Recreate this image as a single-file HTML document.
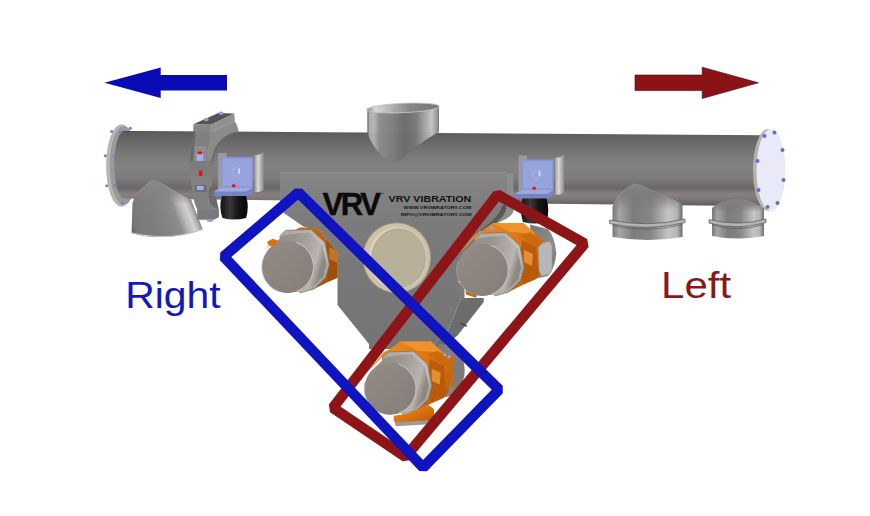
<!DOCTYPE html>
<html lang="en"><head><meta charset="utf-8"><title>VRV Vibration - Right / Left</title>
<style>html,body{margin:0;padding:0;background:#fff}body{width:870px;height:516px;overflow:hidden;font-family:"Liberation Sans",sans-serif}svg{display:block}</style>
</head><body>
<svg width="870" height="516" viewBox="0 0 870 516">
<defs>
<linearGradient id="gPipe" x1="0" y1="0" x2="0" y2="1">
 <stop offset="0" stop-color="#3c3c3c"/>
 <stop offset=".02" stop-color="#5c5c5c"/>
 <stop offset=".15" stop-color="#696969"/>
 <stop offset=".3" stop-color="#777777"/>
 <stop offset=".45" stop-color="#828282"/>
 <stop offset=".62" stop-color="#7e7c7c"/>
 <stop offset=".70" stop-color="#737070"/>
 <stop offset=".76" stop-color="#6b6767"/>
 <stop offset=".84" stop-color="#898181"/>
 <stop offset=".91" stop-color="#7a7575"/>
 <stop offset="1" stop-color="#5c5a5a"/>
</linearGradient>
<linearGradient id="gInlet" x1="0" y1="0" x2="1" y2="0">
 <stop offset="0" stop-color="#5a5a5a"/>
 <stop offset=".03" stop-color="#b0b0b0"/>
 <stop offset=".09" stop-color="#b6b6b6"/>
 <stop offset=".17" stop-color="#8e8e8e"/>
 <stop offset=".35" stop-color="#808080"/>
 <stop offset=".52" stop-color="#6e6e6e"/>
 <stop offset=".68" stop-color="#7b7b7b"/>
 <stop offset=".8" stop-color="#a5a5a5"/>
 <stop offset=".9" stop-color="#c4c4c4"/>
 <stop offset=".97" stop-color="#9a9a9a"/>
 <stop offset="1" stop-color="#777"/>
</linearGradient>
<linearGradient id="gInletIn" x1="0" y1="0" x2="1" y2="0">
 <stop offset="0" stop-color="#8a8a8a"/>
 <stop offset=".12" stop-color="#d8d8d8"/>
 <stop offset=".35" stop-color="#b0b0b0"/>
 <stop offset=".6" stop-color="#858585"/>
 <stop offset="1" stop-color="#777"/>
</linearGradient>
<linearGradient id="gOutL" gradientUnits="userSpaceOnUse" x1="131.6" y1="228" x2="192.9" y2="204.1">
 <stop offset="0" stop-color="#686868"/>
 <stop offset=".06" stop-color="#787878"/>
 <stop offset=".5" stop-color="#828282"/>
 <stop offset=".7" stop-color="#8e8e8e"/>
 <stop offset=".8" stop-color="#bababa"/>
 <stop offset=".89" stop-color="#d2d2d2"/>
 <stop offset=".96" stop-color="#adadad"/>
 <stop offset="1" stop-color="#848484"/>
</linearGradient>
<linearGradient id="gOutR" x1="0" y1="0" x2="1" y2="0">
 <stop offset="0" stop-color="#777"/>
 <stop offset=".1" stop-color="#a5a5a5"/>
 <stop offset=".3" stop-color="#7c7c7c"/>
 <stop offset=".55" stop-color="#868686"/>
 <stop offset=".8" stop-color="#c4c4c4"/>
 <stop offset=".92" stop-color="#b5b5b5"/>
 <stop offset="1" stop-color="#6c6c6c"/>
</linearGradient>
<linearGradient id="gSaddle" x1="0" y1="0" x2="1" y2="0">
 <stop offset="0" stop-color="#777"/>
 <stop offset=".25" stop-color="#8b8989"/>
 <stop offset=".6" stop-color="#7d7b7b"/>
 <stop offset="1" stop-color="#757171"/>
</linearGradient>
<linearGradient id="gSaddleFade" x1="0" y1="0" x2="0" y2="1">
 <stop offset="0" stop-color="#848282" stop-opacity="1"/>
 <stop offset=".45" stop-color="#7e7b7b" stop-opacity=".85"/>
 <stop offset="1" stop-color="#7a7777" stop-opacity="0"/>
</linearGradient>
<linearGradient id="gSaddleFadeL" x1="0" y1="0" x2="0" y2="1">
 <stop offset="0" stop-color="#8a8888" stop-opacity="1"/>
 <stop offset=".5" stop-color="#858282" stop-opacity=".8"/>
 <stop offset="1" stop-color="#807d7d" stop-opacity="0"/>
</linearGradient>
<linearGradient id="gCap" x1="0" y1="0" x2="1" y2="1">
 <stop offset="0" stop-color="#948d88"/>
 <stop offset=".5" stop-color="#8b847f"/>
 <stop offset="1" stop-color="#847d78"/>
</linearGradient>
<linearGradient id="gCylSide" x1="0" y1="0" x2="1" y2="0.3">
 <stop offset="0" stop-color="#908a85"/>
 <stop offset=".45" stop-color="#9a948f"/>
 <stop offset=".7" stop-color="#aaa5a0"/>
 <stop offset=".88" stop-color="#bab5b0"/>
 <stop offset="1" stop-color="#8e8883"/>
</linearGradient>
<linearGradient id="gFlange" x1="0" y1="0" x2="1" y2="1">
 <stop offset="0" stop-color="#aaa6a2"/>
 <stop offset=".6" stop-color="#c4c0bc"/>
 <stop offset="1" stop-color="#8d8985"/>
</linearGradient>
<linearGradient id="gCylFar" x1="0" y1="0" x2="1" y2="1">
 <stop offset="0" stop-color="#777"/>
 <stop offset=".6" stop-color="#8c8c8c"/>
 <stop offset="1" stop-color="#6e6e6e"/>
</linearGradient>
<linearGradient id="gOrange" x1="0" y1="0" x2="1" y2="1">
 <stop offset="0" stop-color="#ee8a1e"/>
 <stop offset=".45" stop-color="#dd7410"/>
 <stop offset="1" stop-color="#b05608"/>
</linearGradient>
<radialGradient id="gDisc" cx=".45" cy=".45" r=".6">
 <stop offset="0" stop-color="#d2ccb6"/>
 <stop offset=".8" stop-color="#c9c2aa"/>
 <stop offset="1" stop-color="#b9b29a"/>
</radialGradient>
<linearGradient id="gRubber" x1="0" y1="0" x2="1" y2="0">
 <stop offset="0" stop-color="#111"/>
 <stop offset=".35" stop-color="#3a3a3a"/>
 <stop offset=".6" stop-color="#1a1a1a"/>
 <stop offset="1" stop-color="#050505"/>
</linearGradient>
<linearGradient id="gPlate" x1="0" y1="0" x2="0" y2="1">
 <stop offset="0" stop-color="#858585"/>
 <stop offset=".3" stop-color="#7b7b7b"/>
 <stop offset="1" stop-color="#747474"/>
</linearGradient>
<linearGradient id="gBrk" x1="0" y1="0" x2="1" y2="0">
 <stop offset="0" stop-color="#9a9a9a"/>
 <stop offset=".4" stop-color="#d8d8d8"/>
 <stop offset="1" stop-color="#8a8a8a"/>
</linearGradient>
</defs>
<rect width="870" height="516" fill="#fff"/>

<ellipse cx="121.5" cy="165.5" rx="15.3" ry="41.2" fill="#b0b0b0"/>
<ellipse cx="122.6" cy="165.5" rx="14.6" ry="40.4" fill="#c2bca8"/>
<ellipse cx="123.6" cy="165.5" rx="14" ry="39.6" fill="#9a9a9a"/>
<path d="M124 131 L770 135.2 L770 206.3 L124 198.5 A9.7 33.75 0 0 1 124 131 Z" fill="url(#gPipe)"/>
<circle cx="111.6" cy="131.4" r="1.5" fill="#6f7cd8"/>
<circle cx="120.5" cy="132.3" r="1.5" fill="#6f7cd8"/>
<circle cx="130.3" cy="128.2" r="1.5" fill="#6f7cd8"/>
<circle cx="105.3" cy="155.8" r="1.5" fill="#6f7cd8"/>
<circle cx="114.3" cy="156" r="1.5" fill="#6f7cd8"/>
<circle cx="106.8" cy="185.7" r="1.5" fill="#6f7cd8"/>
<circle cx="115.2" cy="185.7" r="1.5" fill="#6f7cd8"/>
<circle cx="122.3" cy="203.2" r="1.5" fill="#6f7cd8"/>
<ellipse cx="768" cy="170" rx="15" ry="41" fill="#b5b3ae"/>
<ellipse cx="771" cy="170" rx="14.5" ry="41" fill="#e9e9f7"/>
<circle cx="764.5" cy="136" r="2" fill="#5f6fd0"/>
<circle cx="774.5" cy="132.5" r="2" fill="#5f6fd0"/>
<circle cx="782.5" cy="150" r="2" fill="#5f6fd0"/>
<circle cx="783.5" cy="180" r="2" fill="#5f6fd0"/>
<circle cx="777.5" cy="203" r="2" fill="#5f6fd0"/>
<circle cx="767.5" cy="207" r="2" fill="#5f6fd0"/>
<circle cx="758.5" cy="190" r="2" fill="#5f6fd0"/>
<circle cx="757.5" cy="161" r="2" fill="#5f6fd0"/>
<path d="M367.4 109.5 L367.4 133 Q370 141 376.8 150.2 Q384 159.5 393.5 163.3 Q398 163 401.5 159.7 L413.1 148.8 L427.7 138.6 L439 132 L439 106 Z" fill="url(#gInlet)"/>
<path d="M367.4 133 Q370 141 376.8 150.2 Q384 159.5 393.5 163.3 Q398 163 401.5 159.7 L413.1 148.8 L427.7 138.6 L439 132 Z" fill="#555" opacity=".08"/>
<ellipse cx="403" cy="108" rx="36.3" ry="4.7" transform="rotate(-2.6 403 108)" fill="url(#gInletIn)" stroke="#c4c4c4" stroke-width=".9"/>
<path d="M131.6 233.2 L132.4 203.4 Q133.5 199 135.3 196.2 Q140 189 144.7 186 Q149 181 153.4 180.2 Q158 181.5 163.6 184.5 L178 193.3 L191.2 199.8 L202.8 229.6 Q168 242.5 131.6 233.2 Z" fill="url(#gOutL)"/>
<path d="M132.4 203.4 Q133.5 199 135.3 196.2 Q140 189 144.7 186 Q149 181 153.4 180.2 Q158 181.5 163.6 184.5 L178 193.3 L191.2 199.8 L193 204 Z" fill="url(#gSaddleFadeL)"/>
<path d="M135.3 196.2 Q140 189 144.7 186 Q149 181 153.4 180.2 Q158 181.5 163.6 184.5 L178 193.3" fill="none" stroke="#9a9a9a" stroke-width=".8" opacity=".7"/>
<path d="M131.6 232.8 Q168 242 202.8 229.2" fill="none" stroke="#c4c4c4" stroke-width="1.1"/>
<path d="M612.5 207 Q618 192 634 184 Q641 184.5 648 188.5 Q668 197 682.5 204 L682.5 237 Q648 243 612.5 237 Z" fill="url(#gOutR)"/>
<path d="M612.5 210 L612.5 207 Q618 192 634 184 Q641 184.5 648 188.5 Q668 197 682.5 204 L682.5 210 Z" fill="url(#gSaddleFade)"/>
<path d="M612.5 207 Q618 192 634 184 Q641 184.5 648 188.5" fill="none" stroke="#9c9c9c" stroke-width=".8" opacity=".7"/>
<path d="M609.5 220 Q648 228 685 219 L685 222.6 Q648 231.6 609.5 223.6 Z" fill="#b4b4b4" stroke="#5a5a5a" stroke-width=".7"/>
<path d="M612.5 225.5 Q648 233.5 682.5 224.5" fill="none" stroke="#555" stroke-width="1" opacity=".6"/>
<path d="M712 208 Q722 199.5 738 199 Q752 200 764 208.5 L764 236 Q738 241 712 236 Z" fill="url(#gOutR)"/>
<path d="M712 212 L712 208 Q722 199.5 738 199 Q752 200 764 208.5 L764 212 Z" fill="url(#gSaddleFade)"/>
<path d="M709 219.5 Q738 227 766 219 L766 222.6 Q738 230.6 709 223.1 Z" fill="#b4b4b4" stroke="#5a5a5a" stroke-width=".7"/>
<path d="M712 225 Q738 232.5 764 224.5" fill="none" stroke="#555" stroke-width="1" opacity=".6"/>
<path d="M212 131.6 L234.8 121 Q238 126 238.6 131.6 Q222 134 214 150 Q210.5 160 210 170 L206 170 L206 131.6 Z" fill="#8b8b8b"/>
<path d="M238.6 131.6 Q222 134 214 150 Q210.5 160 210 170 L212 170 Q213 158 217 150 Q225 136 238.6 133 Z" fill="#6a6a6a" opacity=".7"/>
<path d="M193.6 130.8 L210.9 131.3 L209.5 140 L207 150 L206.5 161 L212 161.5 L212 170.5 L189.7 170 L189.7 161 L191 150 Z" fill="#808080"/>
<path d="M189.7 161 L191 150 L193.6 130.8 L195.5 131 L194 150 L193 161 Z" fill="#696969"/>
<rect x="194.5" y="146" width="11.7" height="15" fill="#8d8d8d"/>
<path d="M189.7 161 L212 161.5 L212 170.5 L189.7 170 Z" fill="#7c7c7c"/>
<path d="M190.7 175.8 L212 176.3 L212 185 L209 190 L208.5 203 L214 208.5 L218.8 209.5 L218.8 217 L214 219.5 L197.4 219.5 L197.4 210 L194.5 203 L191.5 186 Z" fill="#808080"/>
<path d="M190.7 175.8 L212 176.3 L212 185 L190.7 184.5 Z" fill="#828282"/>
<rect x="195" y="185" width="11.5" height="7" fill="#6d6d6d"/>
<path d="M197.4 209.8 L218.8 209.5 L218.8 217 L214 219.5 L197.4 219.5 Z" fill="#7a7a7a"/>
<path d="M209 190 L214 188 L218.8 209.5 L214 208.5 L208.5 203 Z" fill="#6c6c6c"/>
<rect x="207" y="219.5" width="6" height="2.2" rx="1" fill="#8f9bdc"/>
<path d="M193.3 124.2 L218.3 113 L234.3 113.5 L210.9 124.7 Z" fill="#545454"/>
<path d="M193.3 124.2 L210.9 124.7 L210.9 131.6 L193.3 131.1 Z" fill="#868686"/>
<path d="M210.9 124.7 L234.3 113.5 L234.8 121 L212 131.6 L210.9 131.6 Z" fill="#909090"/>
<rect x="196.6" y="153.5" width="6.6" height="7.4" rx="1.2" fill="#a3b0ea"/>
<rect x="197.6" y="151.6" width="4.6" height="2.6" rx=".8" fill="#e01818"/>
<rect x="199" y="170.5" width="3.4" height="5.5" fill="#e01818"/>
<rect x="196.8" y="186" width="7" height="4" rx="1.2" fill="#a3b0ea"/>
<ellipse cx="206.1" cy="119.6" rx="2.6" ry="1.7" fill="#8f9de2"/><ellipse cx="221" cy="113.3" rx="2.6" ry="1.7" fill="#8f9de2"/>
<g transform="translate(0,0)"><path d="M218 153 L226.5 153 L226.5 190 L218 192 Z" fill="#9b9b9b"/><path d="M254.4 155 Q259 156 263.7 152 L263.7 190 Q259 193 254.4 192 Z" fill="url(#gBrk)"/><rect x="220.7" y="157" width="32.5" height="31" fill="#8b97d4"/><rect x="222.5" y="159" width="29" height="27" fill="#97a3dc"/><circle cx="236" cy="172" r="4.2" fill="none" stroke="#aab4e4" stroke-width="1"/><rect x="238.2" y="168.5" width="1.6" height="5" fill="#dfe3f6"/><path d="M213.7 191.5 L222 187.5 L253.3 187.5 L253.3 192 L248 196 L213.7 196 Z" fill="#7683c6"/><path d="M213.7 191.5 L222 187.5 L253.3 187.5 L246 191.5 Z" fill="#9fa9de"/><rect x="231.8" y="184.3" width="3.6" height="3" rx="1" fill="#e31a1a"/><path d="M222 196 L246 196 Q249.5 207 246 218 Q234 221 222.5 218 Q218.5 207 222 196 Z" fill="url(#gRubber)"/></g>
<path d="M461 298 L483.7 298 L483.7 302 L457.5 335.5 L440 349 L430 349 L448.8 329 Z" fill="#6c6c6c"/>
<path d="M280 172.5 L506.5 172.5 L506.5 208 Q505 217 478 236 L457.5 284 L461 298 L448.8 329 L430 349 L369 349 L369 344 L337.5 305 L337.5 253 L320 231 L303.4 226.6 L283.8 213 L280 209.5 Z" fill="url(#gPlate)"/>
<path d="M506.5 172.5 L513.5 174 L513.5 211 Q512 217 500.7 221.5 L492 226 L499 214 L506.5 207 Z" fill="#8d8d8d"/>
<path d="M506.5 204 L506.5 208 Q505 216 496 223 L476 238 L474 234 Q498 220 502 206 Z" fill="#4d4d4d" opacity=".8"/>
<path d="M280 172.5 L507 172.5" stroke="#8f8f8f" stroke-width="1"/>
<g transform="translate(300.5,2.5)"><path d="M218 153 L226.5 153 L226.5 190 L218 192 Z" fill="#9b9b9b"/><path d="M254.4 155 Q259 156 263.7 152 L263.7 190 Q259 193 254.4 192 Z" fill="url(#gBrk)"/><rect x="220.7" y="157" width="32.5" height="31" fill="#8b97d4"/><rect x="222.5" y="159" width="29" height="27" fill="#97a3dc"/><circle cx="236" cy="172" r="4.2" fill="none" stroke="#aab4e4" stroke-width="1"/><rect x="238.2" y="168.5" width="1.6" height="5" fill="#dfe3f6"/><path d="M213.7 191.5 L222 187.5 L253.3 187.5 L253.3 192 L248 196 L213.7 196 Z" fill="#7683c6"/><path d="M213.7 191.5 L222 187.5 L253.3 187.5 L246 191.5 Z" fill="#9fa9de"/><rect x="231.8" y="184.3" width="3.6" height="3" rx="1" fill="#e31a1a"/><path d="M222 196 L246 196 Q249.5 207 246 219.5 Q234 222.5 222.5 219.5 Q218.5 207 222 196 Z" fill="url(#gRubber)"/></g>
<ellipse cx="396.75" cy="257.85" rx="34.3" ry="35.4" fill="#a39b84"/>
<ellipse cx="396.75" cy="257.85" rx="33.4" ry="34.5" fill="#cbc2a9"/>
<ellipse cx="397.6" cy="258.1" rx="28.6" ry="30.8" fill="#ddd6c0"/>
<ellipse cx="398.4" cy="258.2" rx="26.9" ry="29.4" fill="#b9b09a" stroke="#a69e88" stroke-width=".7"/>
<text x="350.5" y="214.5" font-family="'Liberation Sans',sans-serif" font-weight="700" font-size="31.4" text-anchor="middle" fill="#0b0b0b" stroke="#0b0b0b" stroke-width=".4" letter-spacing="-2.5" textLength="56" lengthAdjust="spacingAndGlyphs">VRV</text>
<text x="381.5" y="195" font-family="'Liberation Sans',sans-serif" font-size="3" fill="#111">®</text>
<text x="388.6" y="202" font-family="'Liberation Sans',sans-serif" font-weight="700" font-size="9.4" fill="#121212" textLength="82.7" lengthAdjust="spacingAndGlyphs">VRV VIBRATION</text>
<text x="403.5" y="209.3" font-family="'Liberation Sans',sans-serif" font-weight="700" font-size="4.2" fill="#161616" textLength="67.8" lengthAdjust="spacingAndGlyphs">WWW.VRVIBRATORY.COM</text>
<text x="400.7" y="216.3" font-family="'Liberation Sans',sans-serif" font-weight="700" font-size="4.2" fill="#161616" textLength="71" lengthAdjust="spacingAndGlyphs">INFO@VRVIBRATORY.COM</text>
<path d="M455 280 L464.5 286 L464.5 300 L461 300 Z" fill="#7a7a7a"/>
<path d="M465.5 288 L477 294 L476 297.8 L466 294.5 Z" fill="#c8690e"/>
<g transform="translate(0,0)">
<path d="M530 224.6 L547.7 229 Q554.7 236 556.3 253.4 Q555 268 547.7 276 L535 279 Z" fill="url(#gCylFar)"/>
<path d="M474 236 L492.8 222.9 L523.3 222.9 L544.2 241.2 L545.1 246.4 L540.7 274.3 L535.5 279.6 L523.3 284.8 L507.6 292.5 L480 296 Z" fill="url(#gOrange)"/>
<path d="M476.2 233.3 L481 231 L465 248 L459.5 253 Z" fill="#e88a22"/>
<path d="M522 240 L536 247 L538 276 L524 284 L519 270 Z" fill="#b4580a" opacity=".8"/>
<path d="M524 250 L533 254 L532 266 L524 262 Z" fill="#f0a040" opacity=".75"/>
<path d="M492.8 222.9 L523.3 222.9 L536 234 L510 232 Z" fill="#f59d38" opacity=".7"/>
<path d="M520 236 L530 232 L544 244 L537 247 Z" fill="#c8680e" opacity=".8"/>
<path d="M538.1 247.3 L542.5 242.9 L549.5 241.2 L552.1 245.5 L552.1 269.1 L549.5 274.3 L541.6 276.1 L539 270.9 Z" fill="#b7b7ba" stroke="#8f8f92" stroke-width=".6"/>
<path d="M474.5 239 L480.5 233.3 L505.8 232.5 L519.8 245.5 L524.2 267.4 L520.7 280.4 L509.3 291.8 L495 296 Z" fill="url(#gFlange)" stroke="#6f6b67" stroke-width=".6"/>
<path d="M463.5 252.5 L477.5 238.8 Q491 235.4 504 236 L517.2 248.2 L521.2 267.4 L518 279.6 L507.6 290 L494 295 Z" fill="url(#gCylSide)"/>
<ellipse cx="482.3" cy="270" rx="25.6" ry="26" fill="url(#gCap)"/>
<path d="M491 245.6 A25.3 25.7 0 0 1 491 294.4" fill="none" stroke="#c2bdb8" stroke-width="1.1" opacity=".95"/>
<path d="M473.5 294.4 A25.3 25.7 0 0 1 458 262" fill="none" stroke="#b0aaa5" stroke-width=".9" opacity=".8"/>
<circle cx="482.5" cy="236.5" r=".9" fill="#d8d4d0" stroke="#77736f" stroke-width=".3"/>
<circle cx="503" cy="234.8" r=".9" fill="#d8d4d0" stroke="#77736f" stroke-width=".3"/>
<circle cx="517.5" cy="250" r=".9" fill="#d8d4d0" stroke="#77736f" stroke-width=".3"/>
<circle cx="520.5" cy="275" r=".9" fill="#d8d4d0" stroke="#77736f" stroke-width=".3"/>
<circle cx="506" cy="290.5" r=".9" fill="#d8d4d0" stroke="#77736f" stroke-width=".3"/>
</g>
<circle cx="491.5" cy="228" r="2" fill="#8fa0e0"/><circle cx="480" cy="231.8" r="1.3" fill="#8fa0e0"/>
<path d="M461 322.5 L467 325.5 L466.5 327 L460.5 324 Z" fill="#444"/>
<clipPath id="cLeft"><path d="M255 240 L276 240 L300 227.5 L313 227.5 L320 231 L337.5 253 L337.5 300 L255 300 Z"/></clipPath>
<g clip-path="url(#cLeft)"><g transform="translate(-194.8,-3)">
<path d="M530 224.6 L547.7 229 Q554.7 236 556.3 253.4 Q555 268 547.7 276 L535 279 Z" fill="url(#gCylFar)"/>
<path d="M474 236 L492.8 222.9 L523.3 222.9 L544.2 241.2 L545.1 246.4 L540.7 274.3 L535.5 279.6 L523.3 284.8 L507.6 292.5 L480 296 Z" fill="url(#gOrange)"/>
<path d="M476.2 233.3 L481 231 L465 248 L459.5 253 Z" fill="#e88a22"/>
<path d="M522 240 L536 247 L538 276 L524 284 L519 270 Z" fill="#b4580a" opacity=".8"/>
<path d="M524 250 L533 254 L532 266 L524 262 Z" fill="#f0a040" opacity=".75"/>
<path d="M492.8 222.9 L523.3 222.9 L536 234 L510 232 Z" fill="#f59d38" opacity=".7"/>
<path d="M520 236 L530 232 L544 244 L537 247 Z" fill="#c8680e" opacity=".8"/>
<path d="M474 236 L492.8 222.9 L523.3 222.9 L544.2 241.2 L545.1 246.4 L540.7 274.3 L535.5 279.6 L523.3 284.8 L507.6 292.5 L480 296 Z" fill="#5a2a00" opacity="0.25"/>
<path d="M538.1 247.3 L542.5 242.9 L549.5 241.2 L552.1 245.5 L552.1 269.1 L549.5 274.3 L541.6 276.1 L539 270.9 Z" fill="#b7b7ba" stroke="#8f8f92" stroke-width=".6"/>
</g></g>
<g transform="translate(-194.8,-3)">
<path d="M474.5 239 L480.5 233.3 L505.8 232.5 L519.8 245.5 L524.2 267.4 L520.7 280.4 L509.3 291.8 L495 296 Z" fill="url(#gFlange)" stroke="#6f6b67" stroke-width=".6"/>
<path d="M463.5 252.5 L477.5 238.8 Q491 235.4 504 236 L517.2 248.2 L521.2 267.4 L518 279.6 L507.6 290 L494 295 Z" fill="url(#gCylSide)"/>
<ellipse cx="482.3" cy="270" rx="25.6" ry="26" fill="url(#gCap)"/>
<path d="M491 245.6 A25.3 25.7 0 0 1 491 294.4" fill="none" stroke="#c2bdb8" stroke-width="1.1" opacity=".95"/>
<path d="M473.5 294.4 A25.3 25.7 0 0 1 458 262" fill="none" stroke="#b0aaa5" stroke-width=".9" opacity=".8"/>
<circle cx="482.5" cy="236.5" r=".9" fill="#d8d4d0" stroke="#77736f" stroke-width=".3"/>
<circle cx="503" cy="234.8" r=".9" fill="#d8d4d0" stroke="#77736f" stroke-width=".3"/>
<circle cx="517.5" cy="250" r=".9" fill="#d8d4d0" stroke="#77736f" stroke-width=".3"/>
<circle cx="520.5" cy="275" r=".9" fill="#d8d4d0" stroke="#77736f" stroke-width=".3"/>
<circle cx="506" cy="290.5" r=".9" fill="#d8d4d0" stroke="#77736f" stroke-width=".3"/>
</g>
<path d="M267.5 241.5 L272.7 238.8 L279 241 L272 247 L267.5 244 Z" fill="#d9720f"/>
<g transform="translate(-92.3,118.7)">
<path d="M530 224.6 L547.7 229 Q554.7 236 556.3 253.4 Q555 268 547.7 276 L535 279 Z" fill="url(#gCylFar)"/>
<path d="M474 236 L492.8 222.9 L523.3 222.9 L544.2 241.2 L545.1 246.4 L540.7 274.3 L535.5 279.6 L523.3 284.8 L507.6 292.5 L480 296 Z" fill="url(#gOrange)"/>
<path d="M476.2 233.3 L481 231 L465 248 L459.5 253 Z" fill="#e88a22"/>
<path d="M522 240 L536 247 L538 276 L524 284 L519 270 Z" fill="#b4580a" opacity=".8"/>
<path d="M524 250 L533 254 L532 266 L524 262 Z" fill="#f0a040" opacity=".75"/>
<path d="M492.8 222.9 L523.3 222.9 L536 234 L510 232 Z" fill="#f59d38" opacity=".7"/>
<path d="M520 236 L530 232 L544 244 L537 247 Z" fill="#c8680e" opacity=".8"/>
<path d="M543 236.5 L551 235.5 Q557 241 557 251.5 Q557 262 551.5 267.5 L543 268.5 Z" fill="#7b7b7b"/>
<path d="M543 236.5 L546 236 L546 268 L543 268.5 Z" fill="#c56a10"/>
<circle cx="537" cy="236" r="1.6" fill="#8fa6e6"/><circle cx="541.5" cy="238" r="1.6" fill="#8fa6e6"/>
<path d="M474.5 239 L480.5 233.3 L505.8 232.5 L519.8 245.5 L524.2 267.4 L520.7 280.4 L509.3 291.8 L495 296 Z" fill="url(#gFlange)" stroke="#6f6b67" stroke-width=".6"/>
<path d="M463.5 252.5 L477.5 238.8 Q491 235.4 504 236 L517.2 248.2 L521.2 267.4 L518 279.6 L507.6 290 L494 295 Z" fill="url(#gCylSide)"/>
<ellipse cx="482.3" cy="270" rx="25.6" ry="26" fill="url(#gCap)"/>
<path d="M491 245.6 A25.3 25.7 0 0 1 491 294.4" fill="none" stroke="#c2bdb8" stroke-width="1.1" opacity=".95"/>
<path d="M473.5 294.4 A25.3 25.7 0 0 1 458 262" fill="none" stroke="#b0aaa5" stroke-width=".9" opacity=".8"/>
<circle cx="482.5" cy="236.5" r=".9" fill="#d8d4d0" stroke="#77736f" stroke-width=".3"/>
<circle cx="503" cy="234.8" r=".9" fill="#d8d4d0" stroke="#77736f" stroke-width=".3"/>
<circle cx="517.5" cy="250" r=".9" fill="#d8d4d0" stroke="#77736f" stroke-width=".3"/>
<circle cx="520.5" cy="275" r=".9" fill="#d8d4d0" stroke="#77736f" stroke-width=".3"/>
<circle cx="506" cy="290.5" r=".9" fill="#d8d4d0" stroke="#77736f" stroke-width=".3"/>
<path d="M486 297 L500 295 L520 286 L526 290 L527 300 L520 304.5 L490 306.5 L486 302 Z" fill="url(#gOrange)"/>
<path d="M487 303.5 L521 301.5 L521 305.5 L488 307.5 Z" fill="#9a9a9a"/>
</g>
<path d="M497.45 194.65 L584.6 243.7 L405.5 456.9 L333 407.8 Z" fill="none" stroke="#8d1517" stroke-width="10.5" stroke-linejoin="bevel"/>
<path d="M298.4 192.6 L499.05 389.6 L423.1 467.5 L223.7 256.6 Z" fill="none" stroke="#0f14c0" stroke-width="10.5" stroke-linejoin="bevel"/>
<path d="M104.5 82.7 L160.7 67.5 L160.7 75 L227 75 L227 90.5 L160.7 90.5 L160.7 98 Z" fill="#0b0bb5"/>
<path d="M758.5 82.8 L702.2 67.2 L702.2 75 L635 75 L635 90.6 L702.2 90.6 L702.2 98.5 Z" fill="#8b1316" stroke="#3a0a0a" stroke-width=".6"/>
<text id="tR" transform="translate(125.2,308) scale(1.105,1)" font-family="'Liberation Sans',sans-serif" font-size="37" fill="#1616bd">Right</text>
<text id="tL" transform="translate(661,298) scale(1.13,1)" font-family="'Liberation Sans',sans-serif" font-size="37.3" fill="#861a1a">Left</text>
</svg>
</body></html>
